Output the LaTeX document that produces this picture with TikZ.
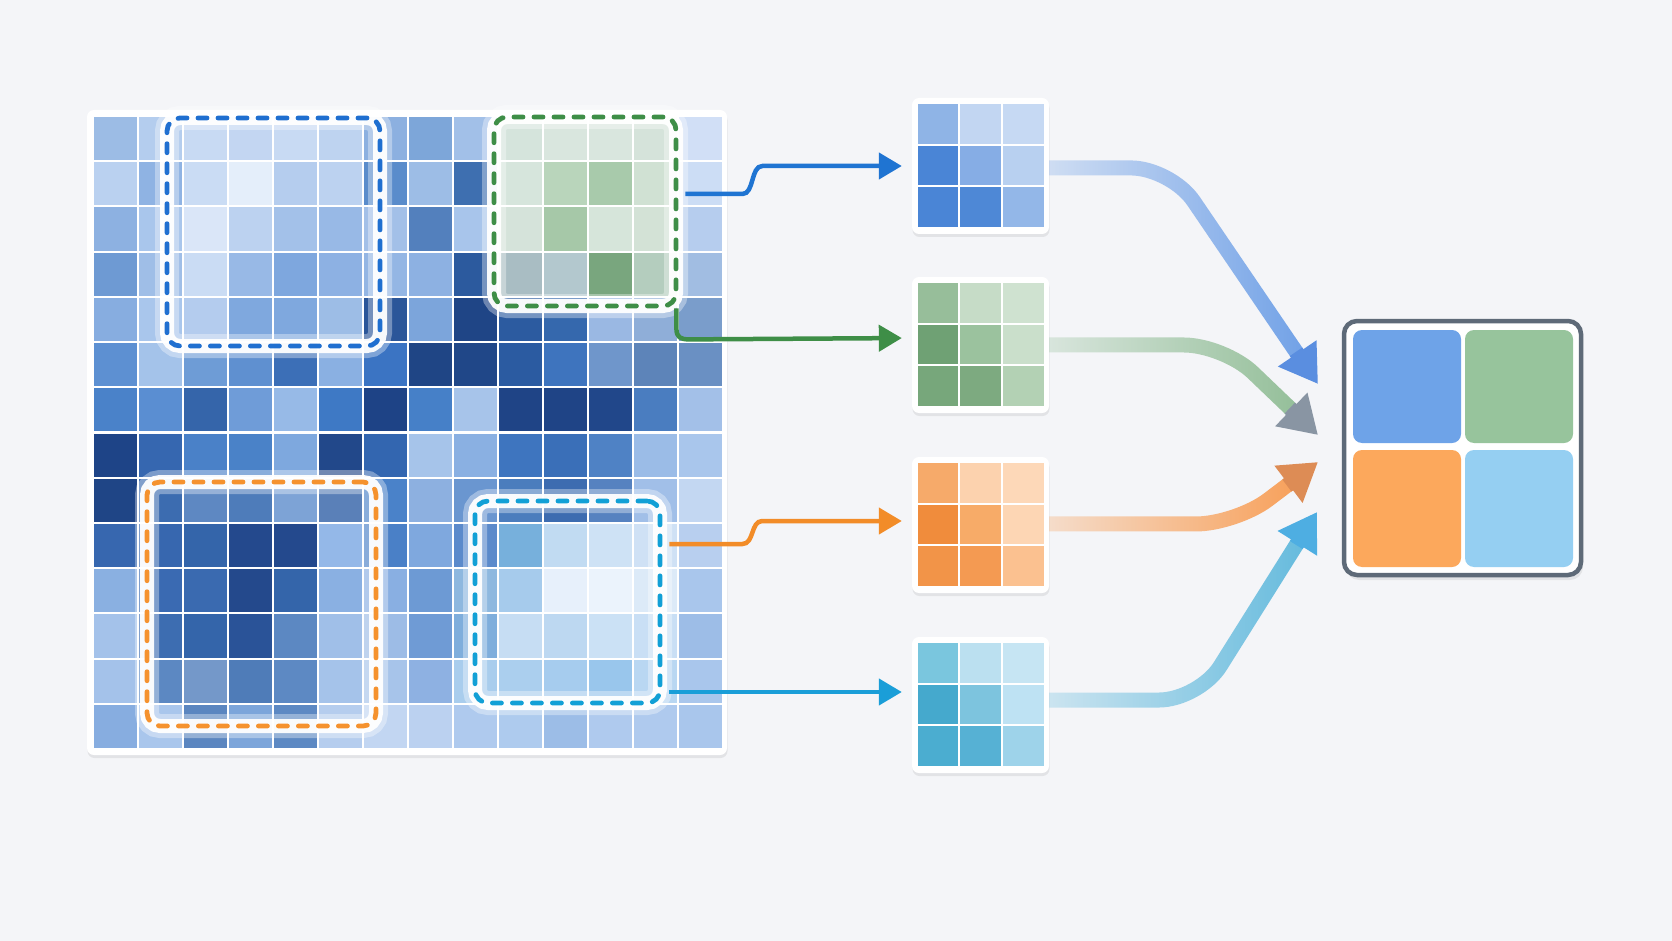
\documentclass[tikz,border=0pt]{standalone}
\usetikzlibrary{arrows.meta,calc,fadings,shadows}
\definecolor{bgc}{HTML}{F4F5F8}
\definecolor{dBlue}{HTML}{1F6FD0}
\definecolor{dGreen}{HTML}{3E8E47}
\definecolor{dOrange}{HTML}{F5922E}
\definecolor{dCyan}{HTML}{12A0D6}
\definecolor{aBlue}{HTML}{1F74D2}
\definecolor{aGreen}{HTML}{3E8E47}
\definecolor{aOrange}{HTML}{F28C28}
\definecolor{aCyan}{HTML}{1A9ED8}
\definecolor{lBlue}{HTML}{6A9DE6}
\definecolor{lGreen}{HTML}{8DBB92}
\definecolor{lOrange}{HTML}{F89A4E}
\definecolor{lCyan}{HTML}{5EB8DC}
\definecolor{hBlue}{HTML}{5A8EE0}
\definecolor{hGreen}{HTML}{8995A3}
\definecolor{hOrange}{HTML}{DD8C55}
\definecolor{hCyan}{HTML}{4EAEE2}
\definecolor{frameGray}{HTML}{5E6A78}
\definecolor{oBlue}{HTML}{6EA3E8}
\definecolor{oGreen}{HTML}{97C49C}
\definecolor{oOrange}{HTML}{FCA85C}
\definecolor{oCyan}{HTML}{95CFF2}
\tikzfading[name=fadeR, left color=transparent!75, middle color=transparent!20, right color=transparent!0]
\newcommand\smallgrid[2]{%
  \begin{scope}[shift={(#1.center)}]
    \foreach \col [count=\k from 0] in {#2} {
      \pgfmathtruncatemacro\ci{mod(\k,3)}
      \pgfmathtruncatemacro\cj{floor(\k/3)}
      \definecolor{cc}{HTML}{\col}
      \fill[cc] (-64+42.67*\ci+1, -63+41.7*\cj+1) rectangle ++(40.67,39.7);
    }
  \end{scope}}
\begin{document}
\begin{tikzpicture}[x=1pt,y=-1pt,
  panel/.style={rectangle, fill=white, inner sep=0pt, rounded corners=7pt,
    drop shadow={shadow xshift=0.5pt, shadow yshift=-3pt, opacity=0.10, fill=black!70}},
  dbox/.style={rectangle, rounded corners=13pt, inner sep=0pt,
    preaction={draw=white, line width=24pt, draw opacity=0.35, solid},
    preaction={draw=white, line width=14pt, draw opacity=0.95, solid},
    line width=4.8pt, dash pattern=on 9pt off 11pt, line cap=round},
  tarrow/.style={line width=4.5pt, -{Triangle[length=23pt,width=26pt]}, shorten >=10pt},
  fatline/.style={line width=15pt, rounded corners=40pt, path fading=fadeR, shorten >=33pt},
  fathead/.style={line width=15pt, -{Triangle[length=37pt,width=44pt]}}]
\fill[bgc] (0,0) rectangle (1672,941);
\useasboundingbox (0,0) rectangle (1672,941);

% big input grid
\node[panel, minimum width=640pt, minimum height=645pt] (big) at (407,432.5) {};
\foreach \row [count=\r from 0] in {
 {9CBCE5,B4CDEE,C8DAF3,C3D6F2,C8DAF3,BED3F0,8CB0E0,7DA6D9,A2C0E8,D5E4DC,D9E6DE,D9E6DE,D5E3DA,D1DFF6},
 {BAD1F0,8FB3E3,CADCF4,E4EEFA,B5CDEE,BCD2F0,5A8CCB,9DBDE6,3E6FB0,D6E5DC,B9D5BB,A8CAAB,D0E1D3,CCDDF5},
 {8DB1E1,A9C6EC,DAE6F8,BCD2F0,A3C1E9,98B9E6,A3C0E8,5380BD,A8C5EB,D5E3DA,A6C8A8,D6E5DA,D3E2D6,B6CDEE},
 {6E9AD3,9FBEE7,CADCF4,98B9E6,7EA7DE,8DB1E3,94B6E4,8DB1E2,2C5A9E,A9BDC3,B3C8CE,79A67E,B4CDBE,A1BDE2},
 {87ADE0,A9C6EC,B4CCEE,7FA8DE,7FA8DE,9DBDE6,2B5699,7CA5DB,1F4586,2C5BA0,3568AD,9AB8E3,8FAED8,7A9DCB},
 {5D90D2,A4C3EA,6E9CD6,5F90D0,3C6FB7,8AB0E2,3B74C3,1F4585,204788,2B5BA1,3E74BE,6F96CB,5D84B9,6A90C3},
 {4A82C9,5A8ED2,3565AA,6F9CD8,97BAE7,3E79C5,1E4386,4680C8,A7C4EA,1F4486,1F4486,21478A,4A7DC0,A3C0E8},
 {1E4487,3667B0,4A81C8,4A82C8,7EA8DE,22488A,3366B0,A6C4EA,8AB0E2,3E75BF,3A6FB8,4F82C5,9BBCE7,A9C6EC},
 {1F4586,3C6CB0,5E88C2,4E7CBA,7DA3D6,5A80B8,4A82C9,8DB0E0,6A96D0,4B7DBD,3D6CB0,5682C0,A1BFE8,C3D7F2},
 {3767AF,3767AF,3465AA,24498D,24498D,94B8E8,4A80C7,7FA8DE,5B8ACB,77B0DC,C1DBF2,CEE2F5,CFE1F5,B8CFEF},
 {8AB0E1,3A6AB2,3A6AB0,24498C,3465AA,8AB0E2,89AFE2,6D9AD4,8EB8DF,A6CBEC,E7F0FB,EBF3FC,DCEAF8,A9C6EC},
 {A4C2EA,3D6DB1,3465AA,2A5398,5C88C2,A0BFE8,9DBCE6,6F9BD5,7FAEDC,C6DDF3,BDD8F1,CBE1F5,C9DFF5,9DBDE7},
 {A4C2EA,5C88C2,7498C9,4F7CB8,5D89C3,A5C3EA,A7C4EA,8EB1E2,A9CDED,ABCFEE,A6CCEE,99C6EC,B9D7F2,A9C6EC},
 {87ADE0,A9C6EC,5B86C0,7CA5DA,5D89C3,B5CDEE,C2D6F2,BBD1F0,AFCAEE,AECBEE,9CBDE7,AFCAEE,AFCAEE,A9C6EC}}{
  \foreach \col [count=\c from 0] in \row {
    \definecolor{cc}{HTML}{\col}
    \fill[cc] (93+45*\c+1, 116+45.214*\r+1) rectangle ++(43,43.2);
  }
}

% dashed regions
\node[dbox, draw=dBlue, minimum width=213pt, minimum height=228pt] (rb) at (273.5,232) {};
\node[dbox, draw=dGreen, minimum width=182pt, minimum height=189pt] (rg) at (585,211.5) {};
\node[dbox, draw=dOrange, minimum width=229pt, minimum height=244pt] (ro) at (261.5,604) {};
\node[dbox, draw=dCyan, minimum width=185pt, minimum height=202pt] (rc) at (567.5,602) {};

% small 3x3 grids
\node[panel, minimum width=137pt, minimum height=136pt] (s1) at (980.5,166) {};
\node[panel, minimum width=137pt, minimum height=136pt] (s2) at (980.5,345) {};
\node[panel, minimum width=137pt, minimum height=136pt] (s3) at (980.5,525) {};
\node[panel, minimum width=137pt, minimum height=136pt] (s4) at (980.5,705) {};
\smallgrid{s1}{8FB4E6,C2D6F2,C6D9F3,4A85D6,86ADE5,B8D0F0,4A85D6,4E88D6,93B7E8}
\smallgrid{s2}{97BE9A,C6DCC7,CFE2D0,6FA174,9BC29E,CADFCB,77A77B,7DAA80,B3D1B4}
\smallgrid{s3}{F6AA6A,FCD2AE,FDD8B8,F08C3C,F7AB68,FDD6B4,F29448,F49A52,FBC190}
\smallgrid{s4}{7AC6DE,BBE0F0,C6E5F3,45A9CD,7DC4DE,BEE2F3,4BADD0,56B1D4,9ED3EA}

% output 2x2
\node[rectangle, fill=white, draw=frameGray, line width=4.5pt, rounded corners=13pt,
  minimum width=237pt, minimum height=254pt, inner sep=0pt,
  drop shadow={shadow xshift=2pt, shadow yshift=-5pt, opacity=0.10, fill=black!70}] (out) at (1462.5,448) {};
\fill[oBlue, rounded corners=9pt] (1353,330) rectangle (1461,443);
\fill[oGreen, rounded corners=9pt] (1465,330) rectangle (1573,443);
\fill[oOrange, rounded corners=9pt] (1353,450) rectangle (1461,567);
\fill[oCyan, rounded corners=9pt] (1465,450) rectangle (1573,567);

% thin arrows
\draw[tarrow, aBlue] ([xshift=7pt,yshift=17.5pt]rg.east) -- ++(57,0)
  .. controls +(12,0) and +(-12,0) .. ++(20,-28) -- (s1.west);
\draw[tarrow, aGreen] ([xshift=-2pt]rg.south east) -- ++(0,20)
  .. controls +(0,9) and +(-9,0) .. ++(13,11) -- ([yshift=7pt]s2.west);
\draw[tarrow, aOrange] ([xshift=7pt,yshift=58pt]rc.east) -- ++(73,0)
  .. controls +(12,0) and +(-12,0) .. ++(20,-23) -- ([yshift=4pt]s3.west);
\draw[tarrow, aCyan] ([xshift=7pt,yshift=-90pt]rc.east) -- ([yshift=13pt]s4.west);

% thick arrows to output
\coordinate (cA) at (1171,168);  \coordinate (tA) at (1318,384);
\coordinate (cB) at (1224,345);  \coordinate (tB) at (1318,435);
\coordinate (cC) at (1236,524);  \coordinate (tC) at (1318,462);
\coordinate (cD) at (1199,700);  \coordinate (tD) at (1317,512);
\draw[fatline, lBlue] ([yshift=-2pt]s1.east) -- (cA) -- (tA);
\draw[fatline, lGreen] (s2.east) -- (cB) -- (tB);
\draw[fatline, lOrange] ([yshift=1pt]s3.east) -- (cC) -- (tC);
\draw[fatline, lCyan] ([yshift=5pt]s4.east) -- (cD) -- (tD);
\draw[fathead, hBlue] ($(tA)!39pt!(cA)$) -- (tA);
\draw[fathead, hGreen] ($(tB)!39pt!(cB)$) -- (tB);
\draw[fathead, hOrange] ($(tC)!39pt!(cC)$) -- (tC);
\draw[fathead, hCyan] ($(tD)!39pt!(cD)$) -- (tD);
\end{tikzpicture}
\end{document}
